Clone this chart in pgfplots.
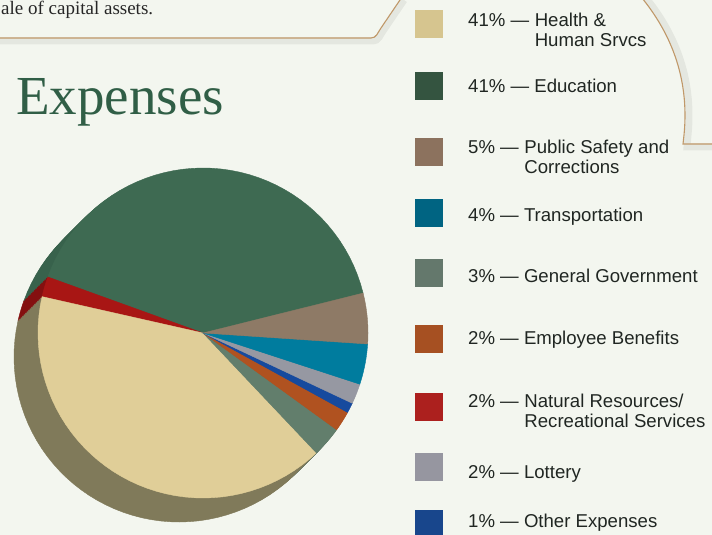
\documentclass[border=0pt]{standalone}
\usepackage{pgfplots}
\pgfplotsset{compat=1.18}
\usepackage{pgfplotstable}
\usepackage{fontspec}
\setmainfont{Liberation Serif}
\newfontfamily\legfont{Liberation Sans}

\definecolor{paper}{RGB}{243,246,239}
\definecolor{framecol}{RGB}{192,152,105}
\definecolor{titlecol}{RGB}{48,94,70}
\definecolor{legtext}{RGB}{32,38,34}
% top faces
\definecolor{top0}{RGB}{62,106,82}   % Education
\definecolor{top1}{RGB}{168,22,20}   % Natural Resources
\definecolor{top2}{RGB}{224,206,152} % Health
\definecolor{top3}{RGB}{98,126,108}  % General Government
\definecolor{top4}{RGB}{176,82,32}   % Employee Benefits
\definecolor{top5}{RGB}{22,74,158}   % Other
\definecolor{top6}{RGB}{150,152,162} % Lottery
\definecolor{top7}{RGB}{0,124,158}   % Transportation
\definecolor{top8}{RGB}{142,122,102} % Public Safety
% sides
\definecolor{side0}{RGB}{56,98,76}
\definecolor{side1}{RGB}{132,16,16}
\definecolor{side2}{RGB}{128,122,90}
\definecolor{side3}{RGB}{80,104,90}
\definecolor{side4}{RGB}{140,64,26}
\definecolor{side5}{RGB}{18,58,126}
\definecolor{side6}{RGB}{120,122,130}
\definecolor{side7}{RGB}{0,98,126}
\definecolor{side8}{RGB}{114,98,82}
% legend squares
\definecolor{leg0}{RGB}{214,197,143}
\definecolor{leg1}{RGB}{52,84,64}
\definecolor{leg2}{RGB}{140,114,94}
\definecolor{leg3}{RGB}{0,100,130}
\definecolor{leg4}{RGB}{100,120,108}
\definecolor{leg5}{RGB}{166,80,34}
\definecolor{leg6}{RGB}{172,32,30}
\definecolor{leg7}{RGB}{150,150,160}
\definecolor{leg8}{RGB}{24,70,140}

% slices in drawing order (counter-clockwise from 14 degrees)
\pgfplotstableread{
idx label pct
0 Education 41
1 NaturalResources 2
2 Health 41
3 GeneralGovernment 3
4 EmployeeBenefits 2
5 Other 1
6 Lottery 2
7 Transportation 4
8 PublicSafety 5
}\piedata

\newcommand\drawpie[3]{%
  \def\cumang{14}%
  \pgfplotsforeachungrouped \i in {0,...,8}{%
    \pgfplotstablegetelem{\i}{pct}\of\piedata
    \pgfmathsetmacro\angA{\cumang}%
    \pgfmathsetmacro\angB{\cumang+\pgfplotsretval*360/101}%
    \edef\cmd{\noexpand\addplot[fill=#3\i, draw=#3\i, line width=0.4pt, domain=\angA:\angB, samples=45] ({#1+cos(x)},{#2+sin(x)}) -- (axis cs:#1,#2) -- cycle;}%
    \cmd
    \let\cumang\angB
  }%
}

\newcommand\lfont{\legfont\fontsize{18.6bp}{20bp}\selectfont}
\newcommand\legsq[2]{\fill[#1] (415,#2) rectangle (443,#2+28);}
\newcommand\legone[3]{\node[anchor=base west, inner sep=0pt, text=legtext, font=\lfont] at (468,#1) {#2 — #3};}
\newcommand\legtwo[5]{%
  \node[anchor=base west, inner sep=0pt, text=legtext, font=\lfont] (#5a) at (468,#1) {#2 —};
  \node[anchor=base west, inner sep=0pt, text=legtext, font=\lfont] (#5b) at ([xshift=5.2bp]#5a.base east) {#3};
  \node[anchor=base west, inner sep=0pt, text=legtext, font=\lfont] at ([yshift=-20bp]#5b.base west) {#4};}

\begin{document}
\begin{tikzpicture}
\begin{scope}[x=1bp,y=-1bp]
\path[use as bounding box] (0,0) rectangle (712,535);
\clip (0,0) rectangle (712,535);
\fill[paper] (0,0) rectangle (712,535);

% frame decoration with soft shadow
\draw[black, opacity=0.06, line width=7bp] (-5,41) -- (373,41) to[out=0,in=234] (383,31) -- (404,0);
\draw[black, opacity=0.06, line width=7bp] (646,-2) .. controls (672,30) and (694,75) .. (688,135) -- (687,147) -- (715,147);
\draw[framecol, line width=1.1bp] (-5,38) -- (371,38) to[out=0,in=234] (381,28) -- (402,-3);
\draw[framecol, line width=1.1bp] (642,-2) .. controls (668,30) and (690,75) .. (684,135) -- (683,144) -- (715,144);

% text
\node[anchor=base west, inner sep=0pt, text=black!85, font=\fontsize{19bp}{22bp}\selectfont] at (1,15) {ale of capital assets.};
\node[anchor=base west, inner sep=0pt, text=titlecol, font=\fontsize{55bp}{60bp}\selectfont] at (16,115) {Expenses};

% legend
\legsq{leg0}{10}  \legtwo{27}{41\%}{Health \&}{Human Srvcs}{la}
\legsq{leg1}{72}  \legone{93}{41\%}{Education}
\legsq{leg2}{138} \legtwo{154}{5\%}{Public Safety and}{Corrections}{lb}
\legsq{leg3}{199} \legone{222}{4\%}{Transportation}
\legsq{leg4}{259} \legone{283}{3\%}{General Government}
\legsq{leg5}{325} \legone{344}{2\%}{Employee Benefits}
\legsq{leg6}{393} \legtwo{407}{2\%}{Natural Resources/}{Recreational Services}{lc}
\legsq{leg7}{453} \legone{478}{2\%}{Lottery}
\legsq{leg8}{510} \legone{527}{1\%}{Other Expenses}
\end{scope}

% pie
\begin{axis}[at={(203bp,-333bp)}, anchor=origin, x=165bp, y=165bp, hide axis,
  xmin=-1.3, xmax=1.1, ymin=-1.3, ymax=1.1, clip=false]
  \drawpie{-0.1455}{-0.1455}{side}
  \drawpie{-0.1364}{-0.1364}{side}
  \drawpie{-0.1273}{-0.1273}{side}
  \drawpie{-0.1182}{-0.1182}{side}
  \drawpie{-0.1091}{-0.1091}{side}
  \drawpie{-0.1000}{-0.1000}{side}
  \drawpie{-0.0909}{-0.0909}{side}
  \drawpie{-0.0818}{-0.0818}{side}
  \drawpie{-0.0727}{-0.0727}{side}
  \drawpie{-0.0636}{-0.0636}{side}
  \drawpie{-0.0545}{-0.0545}{side}
  \drawpie{-0.0455}{-0.0455}{side}
  \drawpie{-0.0364}{-0.0364}{side}
  \drawpie{-0.0273}{-0.0273}{side}
  \drawpie{-0.0182}{-0.0182}{side}
  \drawpie{-0.0091}{-0.0091}{side}
  \drawpie{0}{0}{top}
\end{axis}
\end{tikzpicture}
\end{document}
